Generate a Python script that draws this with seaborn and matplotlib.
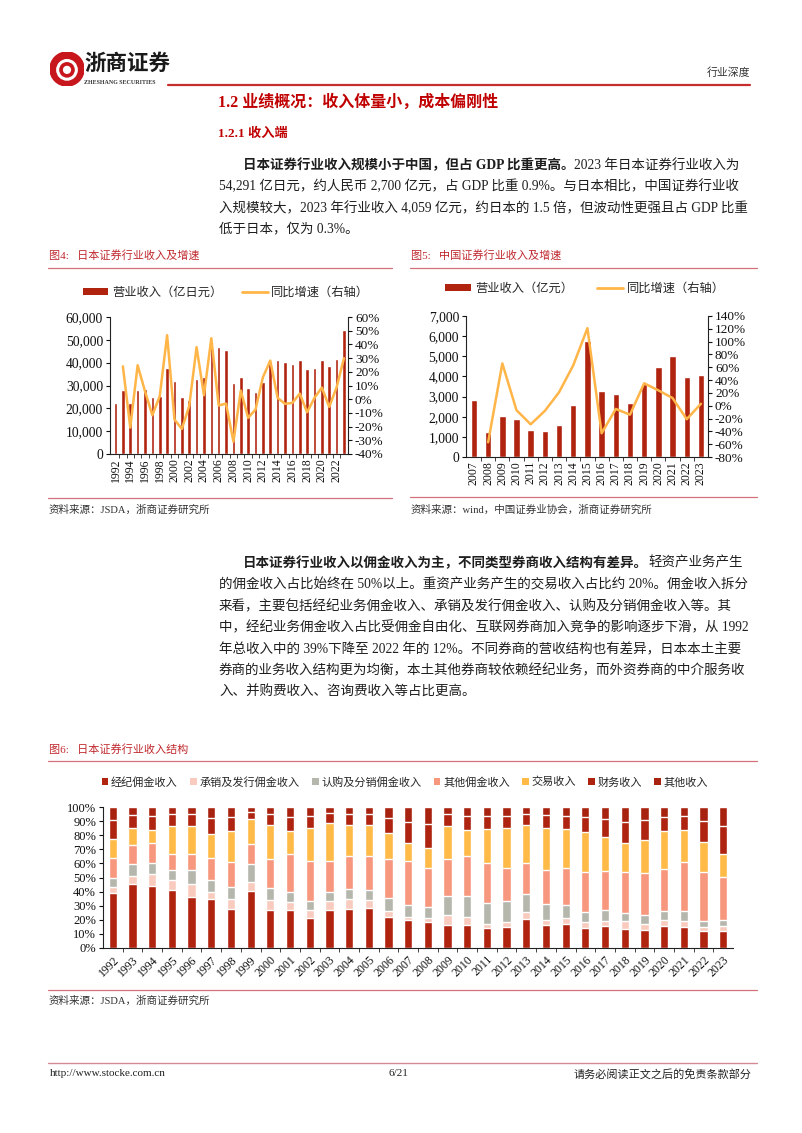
import numpy as np
import pandas as pd
import matplotlib
matplotlib.use("Agg")
import matplotlib.pyplot as plt
from matplotlib.patches import Circle, Patch
from matplotlib.lines import Line2D
from matplotlib.ticker import FuncFormatter, FixedLocator
import seaborn as sns

# ---------------- data ----------------
# 图4 日本证券行业收入及增速
jp_years = list(range(1992, 2024))
jp_revenue = [22500, 28000, 22200, 28000, 28600, 25000, 25300, 37800, 32100, 25000,
              23800, 32800, 33700, 48500, 46700, 45600, 31300, 33700, 29000, 27000,
              31500, 40800, 41300, 40200, 39500, 41200, 37200, 37800, 41000, 38500,
              41800, 54291]
jp_growth = [np.nan, 24.0, -20.7, 24.8, 5.8, -11.7, 2.2, 46.7, -14.8, -21.7,
             -5.0, 38.0, 2.9, 44.5, -4.6, -3.2, -31.0, 6.3, -13.6, -7.5,
             16.0, 28.2, 1.0, -3.4, -2.7, 4.1, -9.5, 1.0, 8.5, -5.6,
             8.6, 29.9]

# 图5 中国证券行业收入及增速
cn_years = list(range(2007, 2024))
cn_revenue = [2847, 1251, 2050, 1904, 1359, 1295, 1592, 2603, 5752, 3280,
              3113, 2663, 3605, 4485, 5024, 3949, 4059]
cn_growth = [np.nan, -57, 66, -7, -29, -8, 21, 63, 121, -43,
             -5, -14, 35, 24, 12, -21, 3]

# 图6 日本证券行业收入结构 (%)
st_years = list(range(1992, 2024))
st_cats = ["经纪佣金收入", "承销及发行佣金收入", "认购及分销佣金收入", "其他佣金收入",
           "交易收入", "财务收入", "其他收入"]
brokerage = [39.0, 45.5, 44.0, 41.2, 36.5, 34.8, 28.0, 40.3, 26.8, 26.8, 21.3, 26.8, 28.0, 28.4, 22.0, 19.7,
             18.7, 16.1, 16.6, 14.2, 14.9, 20.9, 16.4, 16.8, 14.0, 15.4, 13.7, 12.8, 15.6, 14.9, 12.1, 12.1]
underwriting = [4.4, 5.5, 8.4, 6.9, 9.0, 5.0, 6.6, 6.4, 7.1, 6.1, 6.0, 6.4, 6.4, 5.5, 4.3, 2.3,
                2.9, 7.1, 5.4, 2.6, 3.6, 4.5, 3.3, 4.5, 4.2, 3.8, 5.3, 4.5, 4.1, 4.3, 2.8, 3.8]
subscription = [5.9, 8.5, 7.6, 7.1, 9.7, 8.3, 8.8, 12.8, 8.5, 6.7, 6.1, 6.4, 7.1, 7.1, 9.5, 8.3,
                7.5, 13.5, 15.2, 15.2, 14.9, 12.8, 11.8, 9.0, 7.4, 7.6, 5.9, 5.9, 6.6, 6.9, 4.3, 4.2]
other_comm = [14.2, 13.5, 14.4, 11.4, 11.8, 15.9, 17.7, 14.0, 20.4, 27.0, 28.4, 22.2, 23.9, 24.4, 27.0, 31.1,
              27.5, 26.3, 28.0, 28.4, 23.0, 22.2, 23.7, 26.6, 28.0, 27.9, 28.7, 30.1, 29.9, 34.6, 34.8, 30.4]
trading = [13.5, 12.0, 9.2, 20.1, 19.7, 17.0, 21.8, 18.0, 24.1, 16.1, 23.0, 26.8, 21.5, 21.5, 18.7, 12.8,
           14.3, 23.7, 18.4, 23.7, 28.4, 26.8, 29.9, 27.2, 28.6, 24.2, 20.6, 23.2, 26.5, 22.9, 21.1, 15.9]
finance = [14.0, 9.0, 10.0, 8.0, 8.0, 11.0, 10.0, 5.0, 8.0, 10.0, 9.0, 7.0, 8.0, 8.0, 11.0, 15.0,
           17.0, 8.0, 10.0, 9.5, 9.0, 8.0, 9.0, 9.5, 10.5, 12.5, 15.0, 14.0, 10.0, 10.0, 15.0, 20.0]
other_inc = [9.0, 6.0, 6.4, 5.3, 5.3, 8.0, 7.1, 3.5, 5.1, 7.3, 6.2, 4.4, 5.1, 5.1, 7.5, 10.8,
             12.1, 5.3, 6.4, 6.4, 6.2, 4.8, 5.9, 6.4, 7.3, 8.6, 10.8, 9.5, 7.3, 6.4, 9.9, 13.6]

# ---------------- style ----------------
BAR = "#B0230F"
LINE = "#FFB547"
ST_COLORS = ["#B0230F", "#F8CBBE", "#B5B7AD", "#F7987E", "#FFBA48", "#AE2410", "#A82210"]
RED = "#C0282D"
RULE = "#D2707C"
TXT = "#1e1e1e"

sns.set_theme(style="white")
plt.rcParams["font.family"] = ["Liberation Serif", "Noto Sans CJK SC", "DejaVu Sans"]
plt.rcParams["axes.unicode_minus"] = False

W, H = 802, 1133
fig = plt.figure(figsize=(W / 100, H / 100), dpi=100)
fig.patch.set_facecolor("white")
R = fig.canvas.get_renderer()
BODY = 9.72


def fx(x):
    return x / W


def fy(y):
    return 1 - y / H


def put(x, y, s, size=BODY, weight="normal", color=TXT, ha="left", **kw):
    return fig.text(fx(x), fy(y), s, fontsize=size, fontweight=weight,
                    color=color, ha=ha, va="center", **kw)


def put_runs(x, y, runs, size=BODY):
    for s, bold in runs:
        t = put(x, y, s, size=size, weight="bold" if bold else "normal")
        x = t.get_window_extent(R).x1


def hline(x0, x1, y, color=RULE, lw=0.9):
    fig.add_artist(Line2D([fx(x0), fx(x1)], [fy(y), fy(y)], color=color, lw=lw,
                          transform=fig.transFigure))


# ---------------- header ----------------
lax = fig.add_axes([fx(50), fy(86), 34 / W, 34 / H])
lax.set_xlim(-1, 1)
lax.set_ylim(-1, 1)
lax.set_aspect("equal")
lax.axis("off")
lax.add_patch(Circle((0, 0), 1.0, color="#C8161D"))
lax.add_patch(Circle((0, -0.05), 0.55, fill=False, ec="white", lw=2.2))
lax.add_patch(Circle((0, -0.05), 0.2, color="white"))
put(84, 65, "浙商证券", size=15.5, weight="bold", color="#1a1a1a")
put(84, 83, "ZHESHANG SECURITIES", size=4.3, weight="bold", color="#333333")
put(750, 73, "行业深度", size=7.8, color="#333333", ha="right")
hline(168, 750, 85, color="#C62E2E", lw=1.6)

put(218, 103, "1.2 业绩概况：收入体量小，成本偏刚性", size=11.5, weight="bold", color="#C00000")
put(218, 134, "1.2.1 收入端", size=9.5, weight="bold", color="#C00000")

put_runs(243, 165, [("日本证券行业收入规模小于中国，但占 GDP 比重更高。", True),
                    ("2023 年日本证券行业收入为", False)])
put(219, 186, "54,291 亿日元，约人民币 2,700 亿元，占 GDP 比重 0.9%。与日本相比，中国证券行业收")
put(219, 208, "入规模较大，2023 年行业收入 4,059 亿元，约日本的 1.5 倍，但波动性更强且占 GDP 比重")
put(219, 229, "低于日本，仅为 0.3%。")

# ---------------- chart titles ----------------
put(49, 255, "图4:   日本证券行业收入及增速", size=8, color=RED)
hline(48, 392, 268)
put(411, 255, "图5:   中国证券行业收入及增速", size=8, color=RED)
hline(410, 757, 268)


def style_axes(ax, left=True, right=False):
    for side in ["top", "left", "right", "bottom"]:
        ax.spines[side].set_visible(False)
    ax.spines["bottom"].set_visible(True)
    if left:
        ax.spines["left"].set_visible(True)
    if right:
        ax.spines["right"].set_visible(True)
    for sp in ax.spines.values():
        sp.set_color("#222222")
        sp.set_linewidth(0.8)
    ax.set_facecolor("none")
    ax.grid(False)


# ---------------- Fig 4 ----------------
df_jp = pd.DataFrame({"year": jp_years, "revenue": jp_revenue, "growth": jp_growth})
ax1 = fig.add_axes([fx(110), fy(454), fx(348) - fx(110), fy(317) - fy(454)])
sns.barplot(data=df_jp, x="year", y="revenue", native_scale=True, color=BAR,
            saturation=1, width=0.48, errorbar=None, ax=ax1)
ax1b = ax1.twinx()
sns.lineplot(data=df_jp, x="year", y="growth", color=LINE, lw=1.8, ax=ax1b)
ax1.set_xlim(jp_years[0] - 0.75, jp_years[-1] + 0.55)
ax1.set_ylim(0, 60000)
ax1.set_yticks(range(0, 60001, 10000))
ax1.yaxis.set_major_formatter(FuncFormatter(lambda v, p: f"{int(v):,}"))
ax1b.set_ylim(-40, 60)
ax1b.set_yticks(range(-40, 61, 10))
ax1b.yaxis.set_major_formatter(FuncFormatter(lambda v, p: f"{int(v)}%"))
ax1.set_xticks(jp_years[::2])
ax1.set_xticklabels([str(y) for y in jp_years[::2]], rotation=90)
ax1.xaxis.set_minor_locator(FixedLocator([y + 0.5 for y in jp_years[:-1]]))
style_axes(ax1, left=True)
style_axes(ax1b, left=False, right=True)
ax1b.spines["bottom"].set_visible(False)
for a in (ax1, ax1b):
    a.set_xlabel("")
    a.set_ylabel("")
ax1.tick_params(axis="y", which="major", direction="out", length=3, width=0.8, left=True,
                labelsize=9.8, pad=2, colors="#111111")
ax1.tick_params(axis="x", which="major", length=0, labelsize=8.5, pad=3, colors="#111111")
ax1.tick_params(axis="x", which="minor", length=3, width=0.6, bottom=True, color="#222222")
ax1b.tick_params(axis="y", direction="out", length=3, width=0.8, right=True,
                 labelsize=9.5, pad=2, colors="#111111")

fig.legend([Patch(facecolor=BAR, edgecolor="none"), Line2D([0], [0], color=LINE, lw=2)],
           ["营业收入（亿日元）", "同比增速（右轴）"], loc="center",
           bbox_to_anchor=(fx(226), fy(293)), ncol=2, frameon=False, fontsize=8.8,
           handlelength=2.1, handleheight=0.55, columnspacing=1.6, handletextpad=0.3)

put(49, 510, "资料来源：JSDA，浙商证券研究所", size=7.6, color="#333333")
hline(48, 392, 498)

# ---------------- Fig 5 ----------------
df_cn = pd.DataFrame({"year": cn_years, "revenue": cn_revenue, "growth": cn_growth})
ax2 = fig.add_axes([fx(466), fy(457), fx(708) - fx(466), fy(316) - fy(457)])
sns.barplot(data=df_cn, x="year", y="revenue", native_scale=True, color=BAR,
            saturation=1, width=0.45, errorbar=None, ax=ax2)
ax2b = ax2.twinx()
sns.lineplot(data=df_cn, x="year", y="growth", color=LINE, lw=1.8, ax=ax2b)
ax2.set_xlim(cn_years[0] - 0.56, cn_years[-1] + 0.5)
ax2.set_ylim(0, 7000)
ax2.set_yticks(range(0, 7001, 1000))
ax2.yaxis.set_major_formatter(FuncFormatter(lambda v, p: f"{int(v):,}"))
ax2b.set_ylim(-80, 140)
ax2b.set_yticks(range(-80, 141, 20))
ax2b.yaxis.set_major_formatter(FuncFormatter(lambda v, p: f"{int(v)}%"))
ax2.set_xticks(cn_years)
ax2.set_xticklabels([str(y) for y in cn_years], rotation=90)
ax2.xaxis.set_minor_locator(FixedLocator([y + 0.5 for y in cn_years[:-1]]))
style_axes(ax2, left=True)
style_axes(ax2b, left=False, right=True)
ax2b.spines["bottom"].set_visible(False)
for a in (ax2, ax2b):
    a.set_xlabel("")
    a.set_ylabel("")
ax2.tick_params(axis="y", which="major", direction="out", length=3, width=0.8, left=True,
                labelsize=9.8, pad=2, colors="#111111")
ax2.tick_params(axis="x", which="major", length=0, labelsize=8.5, pad=3, colors="#111111")
ax2.tick_params(axis="x", which="minor", length=3, width=0.6, bottom=True, color="#222222")
ax2b.tick_params(axis="y", direction="out", length=3, width=0.8, right=True,
                 labelsize=9.5, pad=2, colors="#111111")

fig.legend([Patch(facecolor=BAR, edgecolor="none"), Line2D([0], [0], color=LINE, lw=2)],
           ["营业收入（亿元）", "同比增速（右轴）"], loc="center",
           bbox_to_anchor=(fx(585), fy(289)), ncol=2, frameon=False, fontsize=8.8,
           handlelength=2.1, handleheight=0.55, columnspacing=2.0, handletextpad=0.3)

put(411, 510, "资料来源：wind，中国证券业协会，浙商证券研究所", size=7.6, color="#333333")
hline(410, 757, 497)

# ---------------- paragraph 2 ----------------
put_runs(243, 563, [("日本证券行业收入以佣金收入为主，不同类型券商收入结构有差异。", True),
                    ("轻资产业务产生", False)])
para2 = [
    "的佣金收入占比始终在 50%以上。重资产业务产生的交易收入占比约 20%。佣金收入拆分",
    "来看，主要包括经纪业务佣金收入、承销及发行佣金收入、认购及分销佣金收入等。其",
    "中，经纪业务佣金收入占比受佣金自由化、互联网券商加入竞争的影响逐步下滑，从 1992",
    "年总收入中的 39%下降至 2022 年的 12%。不同券商的营收结构也有差异，日本本土主要",
    "券商的业务收入结构更为均衡，本土其他券商较依赖经纪业务，而外资券商的中介服务收",
    "入、并购费收入、咨询费收入等占比更高。",
]
for i, line in enumerate(para2):
    put(219, 585 + i * 21.4, line)

# ---------------- Fig 6 ----------------
put(49, 749, "图6:   日本证券行业收入结构", size=8, color=RED)
hline(48, 757, 761)

df_st = pd.DataFrame({"year": st_years, st_cats[0]: brokerage, st_cats[1]: underwriting,
                      st_cats[2]: subscription, st_cats[3]: other_comm, st_cats[4]: trading,
                      st_cats[5]: finance, st_cats[6]: other_inc})
shares = df_st[st_cats].div(df_st[st_cats].sum(axis=1), axis=0) * 100
cum = shares.cumsum(axis=1)
ax3 = fig.add_axes([fx(103), fy(948), fx(733) - fx(103), fy(807) - fy(948)])
for cat, col in reversed(list(zip(st_cats, ST_COLORS))):
    sns.barplot(x=df_st["year"], y=cum[cat], native_scale=True, color=col, saturation=1,
                width=0.42, errorbar=None, ax=ax3)
ax3.set_xlim(st_years[0] - 0.5, st_years[-1] + 0.5)
ax3.set_ylim(0, 100)
ax3.set_yticks(range(0, 101, 10))
ax3.yaxis.set_major_formatter(FuncFormatter(lambda v, p: f"{int(v)}%"))
ax3.set_xticks(st_years)
ax3.set_xticklabels([str(y) for y in st_years], rotation=45, ha="right",
                    rotation_mode="anchor")
ax3.xaxis.set_minor_locator(FixedLocator([y + 0.5 for y in st_years[:-1]]))
style_axes(ax3, left=True)
ax3.set_xlabel("")
ax3.set_ylabel("")
ax3.tick_params(axis="y", direction="out", length=3, width=0.8, left=True,
                labelsize=9, pad=2, colors="#111111")
ax3.tick_params(axis="x", which="major", length=0, labelsize=8.5, pad=4, colors="#111111")
ax3.tick_params(axis="x", which="minor", length=3, width=0.6, bottom=True, color="#222222")

fig.legend([Patch(facecolor=c, edgecolor="none") for c in ST_COLORS], st_cats,
           loc="center", bbox_to_anchor=(fx(405), fy(782)), ncol=7, frameon=False,
           fontsize=8.0, handlelength=0.6, handleheight=0.6, handletextpad=0.25,
           columnspacing=1.1)

hline(48, 757, 990)
put(49, 1001, "资料来源：JSDA，浙商证券研究所", size=7.6, color="#333333")

# ---------------- footer ----------------
hline(48, 757, 1063, color="#D48A94", lw=1.0)
put(50, 1074, "http://www.stocke.com.cn", size=8, color="#222222")
put(398, 1074, "6/21", size=8, color="#222222", ha="center")
put(752, 1074, "请务必阅读正文之后的免责条款部分", size=8, color="#222222", ha="right")

fig.savefig("out.png", dpi=100, facecolor="white")
